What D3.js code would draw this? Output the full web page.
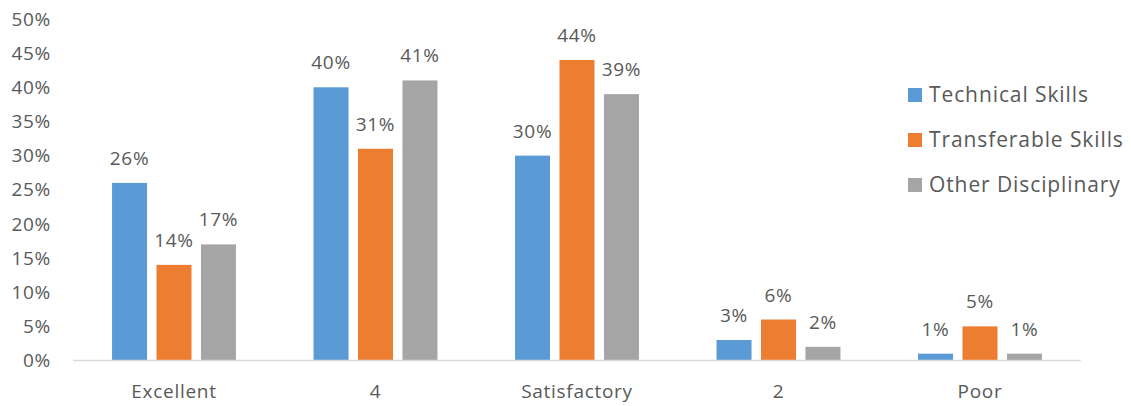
<!DOCTYPE html>
<html>
<head>
<meta charset="utf-8">
<script src="https://cdn.jsdelivr.net/npm/d3@7"></script>
<style>
  html, body { margin: 0; padding: 0; background: #fff; }
  svg { display: block; }
  text { font-family: "Open Sans", Lato, sans-serif; fill: #595959; letter-spacing: 0.7px; }
</style>
</head>
<body>
<svg id="chart" width="1131" height="406"></svg>
<script>
const categories = ["Excellent", "4", "Satisfactory", "2", "Poor"];
const seriesNames = ["Technical Skills", "Transferable Skills", "Other Disciplinary"];
const technical = [26, 40, 30, 3, 1];
const transferable = [14, 31, 44, 6, 5];
const otherDisc = [17, 41, 39, 2, 1];
const yTicks = [0, 5, 10, 15, 20, 25, 30, 35, 40, 45, 50];
const colors = ["#5B9BD5", "#ED7D31", "#A5A5A5"];

const seriesValues = [technical, transferable, otherDisc];
const svg = d3.select("#chart");

const x0 = d3.scaleBand().domain(categories).range([73.25, 1080.75])
  .paddingInner(0.385).paddingOuter(0.1925);
const x1 = d3.scaleBand().domain(seriesNames).range([0, x0.bandwidth()]).paddingInner(0.213);
const y = d3.scaleLinear().domain([0, 50]).range([360.5, 19]);

// y tick labels
svg.append("g").selectAll("text").data(yTicks).join("text")
  .attr("x", 51).attr("y", d => y(d)).attr("dy", "0.35em")
  .attr("text-anchor", "end").style("font-size", "19px")
  .text(d => d + "%");

// bars
const groups = svg.append("g").selectAll("g").data(categories).join("g")
  .attr("transform", d => `translate(${x0(d)},0)`);

groups.selectAll("rect").data((c, i) => seriesNames.map((s, j) => ({ s, j, v: seriesValues[j][i] })))
  .join("rect")
  .attr("x", d => x1(d.s)).attr("width", x1.bandwidth())
  .attr("y", d => y(d.v)).attr("height", d => y(0) - y(d.v))
  .attr("fill", d => colors[d.j]);

groups.selectAll("text.val").data((c, i) => seriesNames.map((s, j) => ({ s, j, v: seriesValues[j][i] })))
  .join("text").attr("class", "val")
  .attr("x", d => x1(d.s) + x1.bandwidth() / 2).attr("y", d => y(d.v) - 18)
  .attr("text-anchor", "middle").style("font-size", "19px")
  .text(d => d.v + "%");

// axis line
svg.append("line").attr("x1", 73.25).attr("x2", 1080.75)
  .attr("y1", y(0)).attr("y2", y(0)).attr("stroke", "#D9D9D9").attr("stroke-width", 1.5);

// category labels
svg.append("g").selectAll("text").data(categories).join("text")
  .attr("x", d => x0(d) + x0.bandwidth() / 2).attr("y", 398)
  .attr("text-anchor", "middle").style("font-size", "19px")
  .text(d => d);

// legend
const legend = svg.append("g").selectAll("g").data(seriesNames).join("g")
  .attr("transform", (d, i) => `translate(908,${95 + i * 45})`);
legend.append("rect").attr("x", 0).attr("y", -7).attr("width", 14).attr("height", 14)
  .attr("fill", (d, i) => colors[i]);
legend.append("text").attr("x", 21).attr("y", 0).attr("dy", "0.35em")
  .style("font-size", "21px").style("letter-spacing", "0.9px").text(d => d);
</script>
</body>
</html>
